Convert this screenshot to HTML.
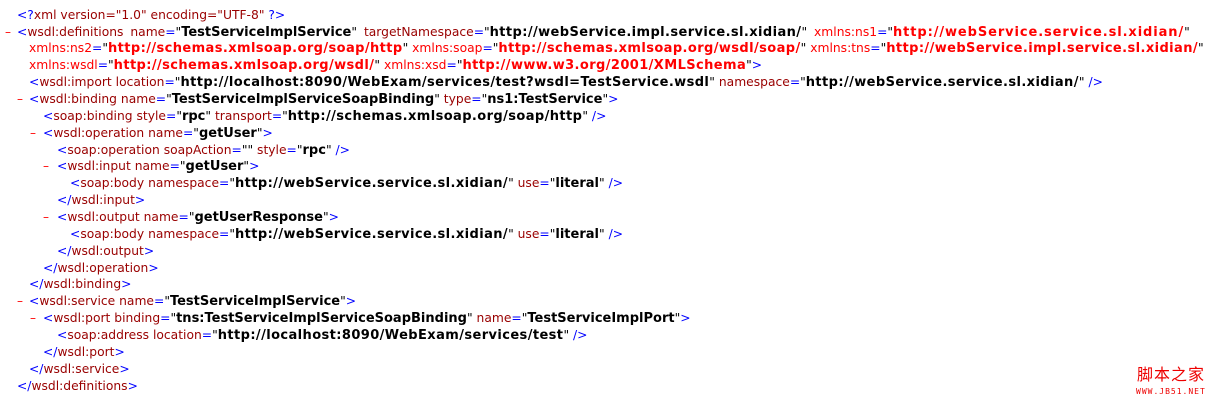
<!DOCTYPE html>
<html><head><meta charset="utf-8"><style>
html,body{margin:0;padding:0;background:#fff;width:1225px;height:408px;overflow:hidden;position:relative}
.l{position:absolute;white-space:nowrap;font-family:"DejaVu Sans","Liberation Sans",sans-serif;font-size:12.3px;line-height:17px;color:#000}
.d{position:absolute;font-family:"DejaVu Sans",sans-serif;font-size:12px;line-height:17px;color:#f00}
i{font-style:normal;color:#00f}
u{text-decoration:none;color:#990000}
b{font-weight:bold;color:#000;font-size:13px}
s{text-decoration:none;color:#f00}
em{font-style:normal;font-weight:bold;color:#f00;font-size:13px}
.w{letter-spacing:0.4px}
.wm{position:absolute;left:1137px;top:363px;font-family:"Noto Sans CJK SC",sans-serif;font-size:16px;color:#e00;letter-spacing:1px;line-height:20px}
.wm2{position:absolute;left:1136px;top:387px;font-family:"DejaVu Sans Mono",monospace;font-size:8px;color:#e00;letter-spacing:1px}
</style></head><body>
<div class="l" style="left:17px;top:6.6px"><i>&lt;?</i><u>xml version="1.0" encoding="UTF-8"</u><i> ?&gt;</i></div>

<div class="d" style="left:5px;top:23.5px">–</div>
<div class="l" style="left:17px;top:23.5px;word-spacing:3px"><i>&lt;</i><u>wsdl:definitions</u> <u>name</u><i>=</i>"<b>TestServiceImplService</b>" <u>targetNamespace</u><i>=</i>"<b class="w">http://webService.impl.service.sl.xidian/</b>" <s>xmlns:ns1</s><i>=</i>"<em style="letter-spacing:0.9px">http://webService.service.sl.xidian/</em>"</div>
<div class="l" style="left:29px;top:40.3px"><s>xmlns:ns2</s><i>=</i>"<em class="w">http://schemas.xmlsoap.org/soap/http</em>" <s>xmlns:soap</s><i>=</i>"<em class="w">http://schemas.xmlsoap.org/wsdl/soap/</em>" <s>xmlns:tns</s><i>=</i>"<em class="w">http://webService.impl.service.sl.xidian/</em>"</div>
<div class="l" style="left:29px;top:57.2px"><s>xmlns:wsdl</s><i>=</i>"<em class="w">http://schemas.xmlsoap.org/wsdl/</em>" <s>xmlns:xsd</s><i>=</i>"<em class="w">http://www.w3.org/2001/XMLSchema</em>"<i>&gt;</i></div>
<div class="l" style="left:29px;top:74px"><i>&lt;</i><u>wsdl:import</u> <u>location</u><i>=</i>"<b class="w">http://localhost:8090/WebExam/services/test?wsdl=TestService.wsdl</b>" <u>namespace</u><i>=</i>"<b class="w">http://webService.service.sl.xidian/</b>" <i>/&gt;</i></div>

<div class="d" style="left:17px;top:90.9px">–</div>
<div class="l" style="left:29px;top:90.9px"><i>&lt;</i><u>wsdl:binding</u> <u>name</u><i>=</i>"<b>TestServiceImplServiceSoapBinding</b>" <u>type</u><i>=</i>"<b>ns1:TestService</b>"<i>&gt;</i></div>
<div class="l" style="left:43px;top:107.8px"><i>&lt;</i><u>soap:binding</u> <u>style</u><i>=</i>"<b>rpc</b>" <u>transport</u><i>=</i>"<b class="w">http://schemas.xmlsoap.org/soap/http</b>" <i>/&gt;</i></div>
<div class="d" style="left:30px;top:124.6px">–</div>
<div class="l" style="left:43px;top:124.6px"><i>&lt;</i><u>wsdl:operation</u> <u>name</u><i>=</i>"<b>getUser</b>"<i>&gt;</i></div>
<div class="l" style="left:57px;top:141.5px"><i>&lt;</i><u>soap:operation</u> <u>soapAction</u><i>=</i>"" <u>style</u><i>=</i>"<b>rpc</b>" <i>/&gt;</i></div>
<div class="d" style="left:43px;top:158.4px">–</div>
<div class="l" style="left:57px;top:158.4px"><i>&lt;</i><u>wsdl:input</u> <u>name</u><i>=</i>"<b>getUser</b>"<i>&gt;</i></div>
<div class="l" style="left:70px;top:175.2px"><i>&lt;</i><u>soap:body</u> <u>namespace</u><i>=</i>"<b class="w">http://webService.service.sl.xidian/</b>" <u>use</u><i>=</i>"<b>literal</b>" <i>/&gt;</i></div>
<div class="l" style="left:57px;top:192.1px"><i>&lt;/</i><u>wsdl:input</u><i>&gt;</i></div>
<div class="d" style="left:43px;top:208.9px">–</div>
<div class="l" style="left:57px;top:208.9px"><i>&lt;</i><u>wsdl:output</u> <u>name</u><i>=</i>"<b>getUserResponse</b>"<i>&gt;</i></div>
<div class="l" style="left:70px;top:225.8px"><i>&lt;</i><u>soap:body</u> <u>namespace</u><i>=</i>"<b class="w">http://webService.service.sl.xidian/</b>" <u>use</u><i>=</i>"<b>literal</b>" <i>/&gt;</i></div>
<div class="l" style="left:57px;top:242.7px"><i>&lt;/</i><u>wsdl:output</u><i>&gt;</i></div>
<div class="l" style="left:43px;top:259.5px"><i>&lt;/</i><u>wsdl:operation</u><i>&gt;</i></div>
<div class="l" style="left:29px;top:276.4px"><i>&lt;/</i><u>wsdl:binding</u><i>&gt;</i></div>

<div class="d" style="left:17px;top:293.2px">–</div>
<div class="l" style="left:29px;top:293.2px"><i>&lt;</i><u>wsdl:service</u> <u>name</u><i>=</i>"<b>TestServiceImplService</b>"<i>&gt;</i></div>
<div class="d" style="left:30px;top:310.1px">–</div>
<div class="l" style="left:43px;top:310.1px"><i>&lt;</i><u>wsdl:port</u> <u>binding</u><i>=</i>"<b>tns:TestServiceImplServiceSoapBinding</b>" <u>name</u><i>=</i>"<b>TestServiceImplPort</b>"<i>&gt;</i></div>
<div class="l" style="left:57px;top:327px"><i>&lt;</i><u>soap:address</u> <u>location</u><i>=</i>"<b class="w">http://localhost:8090/WebExam/services/test</b>" <i>/&gt;</i></div>
<div class="l" style="left:43px;top:343.8px"><i>&lt;/</i><u>wsdl:port</u><i>&gt;</i></div>
<div class="l" style="left:29px;top:360.7px"><i>&lt;/</i><u>wsdl:service</u><i>&gt;</i></div>
<div class="l" style="left:17px;top:377.5px"><i>&lt;/</i><u>wsdl:definitions</u><i>&gt;</i></div>

<div class="wm">脚本之家</div>
<div class="wm2">WWW.JB51.NET</div>
</body></html>
